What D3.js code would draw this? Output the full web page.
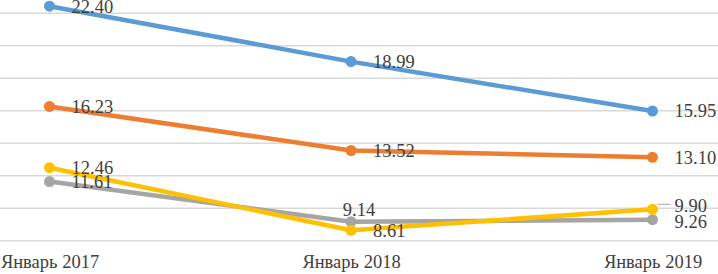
<!DOCTYPE html>
<html>
<head>
<meta charset="utf-8">
<script src="https://cdn.jsdelivr.net/npm/d3@7"></script>
<style>
  body { margin: 0; background: #fff; }
  svg { display: block; }
</style>
</head>
<body>
<svg id="chart" width="718" height="274"></svg>
<script>
// DATA
const categories = ["Январь 2017", "Январь 2018", "Январь 2019"];
const seriesBlue = [22.40, 18.99, 15.95];
const seriesOrange = [16.23, 13.52, 13.10];
const seriesGray = [11.61, 9.14, 9.26];
const seriesYellow = [12.46, 8.61, 9.90];
const yTicks = [8, 10, 12, 14, 16, 18, 20, 22];

const series = [
  { key: "blue", color: "#5b9bd5", values: seriesBlue },
  { key: "orange", color: "#ed7d31", values: seriesOrange },
  { key: "gray", color: "#a5a5a5", values: seriesGray },
  { key: "yellow", color: "#ffc000", values: seriesYellow },
];

// label tweaks (Excel moved a few by hand)
const labelNudge = {
  "gray-1": { anchor: "middle", dx: 8, dy: -12.5 },
  "yellow-2": { dy: -4, leader: true },
  "gray-2": { dy: 2 },
};

const svg = d3.select("#chart");
const W = +svg.attr("width");

const x = d3.scalePoint().domain(categories).range([49.5, 652.5]);
const y = d3.scaleLinear().domain([8, 24]).range([240.2, -19.8]);

// GRID
const gy = svg.append("g");
gy.call(d3.axisLeft(y).tickValues(yTicks).tickSize(-W).tickFormat(""))
  .call((g) => g.select(".domain").remove())
  .call((g) => g.selectAll("line").attr("stroke", "#d9d9d9").attr("stroke-width", 1.5));

// X LABELS
const gx = svg.append("g").attr("transform", "translate(0,268)");
gx.call(d3.axisBottom(x).tickSize(0).tickPadding(0))
  .call((g) => g.select(".domain").remove())
  .call((g) =>
    g.selectAll("text")
      .attr("dy", 0)
      .attr("y", 0)
      .attr("fill", "#404040")
      .style("font-family", "'Liberation Serif', 'Times New Roman', serif")
      .style("font-size", "18.5px")
  );

const line = d3.line()
  .x((d, i) => x(categories[i]))
  .y((d) => y(d));

const gs = svg.selectAll(".series").data(series).join("g").attr("class", "series");

gs.append("path")
  .attr("fill", "none")
  .attr("stroke", (d) => d.color)
  .attr("stroke-width", 4.5)
  .attr("stroke-linejoin", "round")
  .attr("stroke-linecap", "round")
  .attr("d", (d) => line(d.values));

gs.selectAll("circle")
  .data((d) => d.values.map((v, i) => ({ v, i, color: d.color })))
  .join("circle")
  .attr("cx", (d) => x(categories[d.i]))
  .attr("cy", (d) => y(d.v))
  .attr("r", 5.5)
  .attr("fill", (d) => d.color);

// DATA LABELS
const labels = [];
series.forEach((s) =>
  s.values.forEach((v, i) => {
    const n = labelNudge[`${s.key}-${i}`] || {};
    labels.push({ v, i, n });
  })
);

const gl = svg.append("g")
  .style("font-family", "'Liberation Serif', 'Times New Roman', serif")
  .style("font-size", "18.5px")
  .attr("fill", "#404040");

gl.selectAll("line")
  .data(labels.filter((d) => d.n.leader))
  .join("line")
  .attr("x1", (d) => x(categories[d.i]) + 5)
  .attr("x2", (d) => x(categories[d.i]) + 18)
  .attr("y1", (d) => y(d.v) - 5)
  .attr("y2", (d) => y(d.v) - 5)
  .attr("stroke", "#a6a6a6")
  .attr("stroke-width", 1);

gl.selectAll("text")
  .data(labels)
  .join("text")
  .attr("x", (d) => x(categories[d.i]) + (d.n.anchor === "middle" ? d.n.dx : 22))
  .attr("y", (d) => y(d.v) + (d.n.dy || 0))
  .attr("dy", "0.35em")
  .attr("text-anchor", (d) => d.n.anchor || "start")
  .text((d) => d.v.toFixed(2));
</script>
</body>
</html>
